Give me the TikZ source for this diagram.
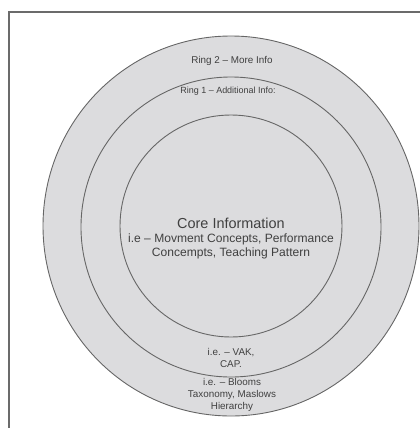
\documentclass[tikz,border=0pt]{standalone}
\usepackage{fontspec}
\setmainfont{Liberation Sans}
\begin{document}
\begin{tikzpicture}[x=1bp,y=-1bp,
  ringline/.style={draw=black!60,line width=0.9bp,fill=ringfill},
  framing/.style={draw=black!58,line width=1.1bp},
  label/.style={text=black!75,inner sep=0pt,align=center},
  small/.style={label,font=\fontsize{9.9}{12}\selectfont},
  tiny/.style={label,font=\fontsize{9.0}{11}\selectfont},
  sub/.style={label,font=\fontsize{12.1}{14}\selectfont},
  title/.style={label,font=\fontsize{14.5}{17}\selectfont}]
\definecolor{ringfill}{RGB}{220,220,222}
\useasboundingbox (0,0) rectangle (420,428);
% page frame: top and left edges
\draw[framing] (9,430) -- (9,12) -- (422,12);
% three nested rings
\draw[ringline] (231,226) ellipse [x radius=188, y radius=190];
\draw[ringline] (231,227) circle [radius=150];
\draw[ringline] (231,226) circle [radius=111];
% labels
\node[small] (r2) at (232,61) {Ring 2 -- More Info};
\node[tiny] (r1) at (228,91) {Ring 1 -- Additional Info:};
\node[title] (core) at (231,223) {Core Information};
\node[sub] (coreA) at (231,246) {i.e -- Movment Concepts, Performance\\Concempts, Teaching Pattern};
\node[small] (vak) at (231,358) {i.e. -- VAK,\\CAP.};
\node[small] (bloom) at (232,395) {i.e. -- Blooms\\Taxonomy, Maslows\\Hierarchy};
\end{tikzpicture}
\end{document}
